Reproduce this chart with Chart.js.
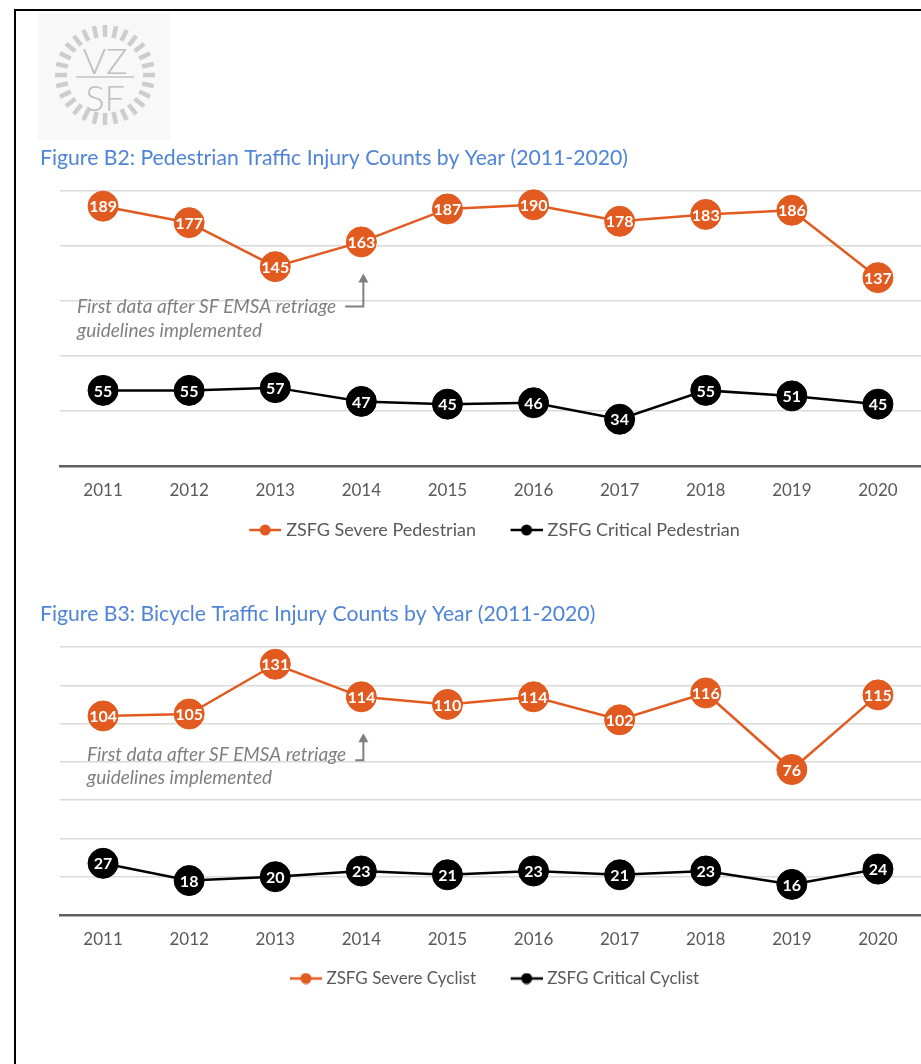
<!DOCTYPE html>
<html>
<head>
<meta charset="utf-8">
<script src="https://cdn.jsdelivr.net/npm/chart.js@4.4.0/dist/chart.umd.min.js"></script>
<style>
body { margin: 0; background: #fff; width: 921px; height: 1064px; overflow: hidden; position: relative; }
#frame { position: absolute; left: 14px; top: 9px; width: 1000px; height: 1100px; border: 2px solid #000; }
#logo { position: absolute; left: 38px; top: 13px; }
canvas { position: absolute; left: 0; }
#ped { top: 140px; }
#bike { top: 596px; }
</style>
</head>
<body>
<div id="frame"></div>
<svg id="logo" width="132" height="127"></svg>
<canvas id="ped" width="921" height="409"></canvas>
<canvas id="bike" width="921" height="401"></canvas>
<script>
var years = ['2011', '2012', '2013', '2014', '2015', '2016', '2017', '2018', '2019', '2020'];
var pedSevere = [189, 177, 145, 163, 187, 190, 178, 183, 186, 137];
var pedCritical = [55, 55, 57, 47, 45, 46, 34, 55, 51, 45];
var bikeSevere = [104, 105, 131, 114, 110, 114, 102, 116, 76, 115];
var bikeCritical = [27, 18, 20, 23, 21, 23, 21, 23, 16, 24];

var orange = '#E15B20';
var black = '#000000';

// logo: ring of dashes with VZ / SF
(function () {
    var s = '<rect width="132" height="127" fill="#f8f8f8"/>';
    var cx = 67, cy = 62;
    for (let i = 0; i < 28; i++) {
        let a = i / 28 * Math.PI * 2;
        let x1 = cx + Math.cos(a) * 38, y1 = cy + Math.sin(a) * 38;
        let x2 = cx + Math.cos(a) * 50, y2 = cy + Math.sin(a) * 50;
        s += '<line x1="' + x1 + '" y1="' + y1 + '" x2="' + x2 + '" y2="' + y2 + '" stroke="#cdcdcd" stroke-width="4.5"/>';
    }
    s += '<text x="67" y="61" text-anchor="middle" font-family="Lato" font-weight="300" font-size="36" fill="#c0c0c0">VZ</text>';
    s += '<line x1="38" y1="64" x2="96" y2="64" stroke="#c4c4c4" stroke-width="1.5"/>';
    s += '<text x="67" y="98" text-anchor="middle" font-family="Lato" font-weight="300" font-size="36" fill="#c0c0c0">SF</text>';
    document.getElementById('logo').innerHTML = s;
})();

// legend marker: line with a dot, wider than its legend box so it sits close to the text
function legendMarker(color) {
    let c = document.createElement('canvas');
    c.width = 64;
    c.height = 12;
    let g = c.getContext('2d');
    g.strokeStyle = color;
    g.lineWidth = 2.5;
    g.beginPath();
    g.moveTo(32, 6);
    g.lineTo(64, 6);
    g.stroke();
    g.fillStyle = color;
    g.beginPath();
    g.arc(48, 6, 5.5, 0, Math.PI * 2);
    g.fill();
    return c;
}

var valueLabels = {
    id: 'valueLabels',
    afterDatasetsDraw: function (chart) {
        let ctx = chart.ctx;
        ctx.save();
        ctx.fillStyle = '#ffffff';
        ctx.font = 'bold 16px Lato';
        ctx.textAlign = 'center';
        ctx.textBaseline = 'middle';
        chart.data.datasets.forEach(function (ds, i) {
            chart.getDatasetMeta(i).data.forEach(function (pt, j) {
                ctx.fillText(ds.data[j], pt.x, pt.y + 1);
            });
        });
        ctx.restore();
    }
};

var retriageNote = {
    id: 'retriageNote',
    afterDraw: function (chart, args, opts) {
        let ctx = chart.ctx;
        let y = chart.scales.y;
        let ax = chart.scales.x.getPixelForValue(opts.index) + 2;
        let tipY = y.getPixelForValue(opts.tip);
        let elbowY = y.getPixelForValue(opts.elbow);
        let tx = chart.chartArea.left + opts.textX;
        ctx.save();
        ctx.font = 'italic 19px Lato';
        ctx.fillStyle = '#7f7f7f';
        ctx.textBaseline = 'middle';
        ctx.fillText(opts.lines[0], tx, y.getPixelForValue(opts.text1));
        ctx.fillText(opts.lines[1], tx, y.getPixelForValue(opts.text2));
        let w = ctx.measureText(opts.lines[0]).width;
        ctx.strokeStyle = '#7f7f7f';
        ctx.lineWidth = 2;
        ctx.beginPath();
        ctx.moveTo(tx + w + 9, elbowY);
        ctx.lineTo(ax, elbowY);
        ctx.lineTo(ax, tipY + 7);
        ctx.stroke();
        ctx.beginPath();
        ctx.moveTo(ax, tipY);
        ctx.lineTo(ax - 5, tipY + 9);
        ctx.lineTo(ax + 5, tipY + 9);
        ctx.closePath();
        ctx.fill();
        ctx.restore();
    }
};

function makeSeries(label, values, color) {
    return {
        label: label,
        data: values,
        borderColor: color,
        backgroundColor: color,
        borderWidth: 2.5,
        tension: 0,
        pointRadius: 15,
        pointHoverRadius: 15,
        pointBackgroundColor: color,
        pointBorderColor: color,
        pointBorderWidth: 1,
        clip: false,
        marker: legendMarker(color)
    };
}

function createChart(id, title, series, yMax, yStep, legendSize, note) {
    let ctx = document.getElementById(id).getContext('2d');
    return new Chart(ctx, {
        type: 'line',
        data: { labels: years, datasets: series },
        plugins: [valueLabels, retriageNote],
        options: {
            responsive: false,
            animation: false,
            events: [],
            layout: { autoPadding: false, padding: { left: 40, right: 0, top: 0, bottom: 0 } },
            scales: {
                x: {
                    offset: true,
                    grid: { display: false, drawTicks: false },
                    border: { display: true, color: '#5f5f5f', width: 2.5 },
                    ticks: { color: '#595959', padding: 14, font: { family: 'Lato', size: 17 } },
                    afterFit: function (axis) { axis.paddingLeft = 0; axis.paddingRight = 0; }
                },
                y: {
                    min: 0,
                    max: yMax,
                    ticks: { display: false, stepSize: yStep },
                    border: { display: false },
                    grid: {
                        drawTicks: false,
                        lineWidth: 1.5,
                        color: function (c) { return c.tick && c.tick.value === 0 ? 'rgba(0,0,0,0)' : '#d9d9d9'; }
                    },
                    afterFit: function (axis) { axis.width = 20; }
                }
            },
            plugins: {
                title: {
                    display: true,
                    text: title,
                    align: 'start',
                    color: '#4f84d6',
                    font: { family: 'Lato', size: 21.2, weight: 'normal' },
                    padding: { top: 5, bottom: 20.6 }
                },
                legend: {
                    position: 'bottom',
                    labels: {
                        usePointStyle: true,
                        pointStyleWidth: 56,
                        padding: 6.6,
                        color: '#595959',
                        font: { family: 'Lato', size: legendSize },
                        generateLabels: function (chart) {
                            let items = Chart.defaults.plugins.legend.labels.generateLabels(chart);
                            items.forEach(function (it) {
                                it.pointStyle = chart.data.datasets[it.datasetIndex].marker;
                            });
                            return items;
                        }
                    }
                },
                tooltip: { enabled: false },
                retriageNote: note
            }
        }
    });
}

var noteLines = ['First data after SF EMSA retriage', 'guidelines implemented'];

createChart('ped', 'Figure B2: Pedestrian Traffic Injury Counts by Year (2011-2020)', [
    makeSeries('ZSFG Severe Pedestrian', pedSevere, orange),
    makeSeries('ZSFG Critical Pedestrian', pedCritical, black)
], 200, 40, 18, { index: 3, tip: 140, elbow: 116, text1: 116, text2: 98.5, textX: 17, lines: noteLines });

createChart('bike', 'Figure B3: Bicycle Traffic Injury Counts by Year (2011-2020)', [
    makeSeries('ZSFG Severe Cyclist', bikeSevere, orange),
    makeSeries('ZSFG Critical Cyclist', bikeCritical, black)
], 140, 20, 17, { index: 3, tip: 95, elbow: 80.8, text1: 83.4, text2: 71.8, textX: 27, lines: noteLines });
</script>
</body>
</html>
